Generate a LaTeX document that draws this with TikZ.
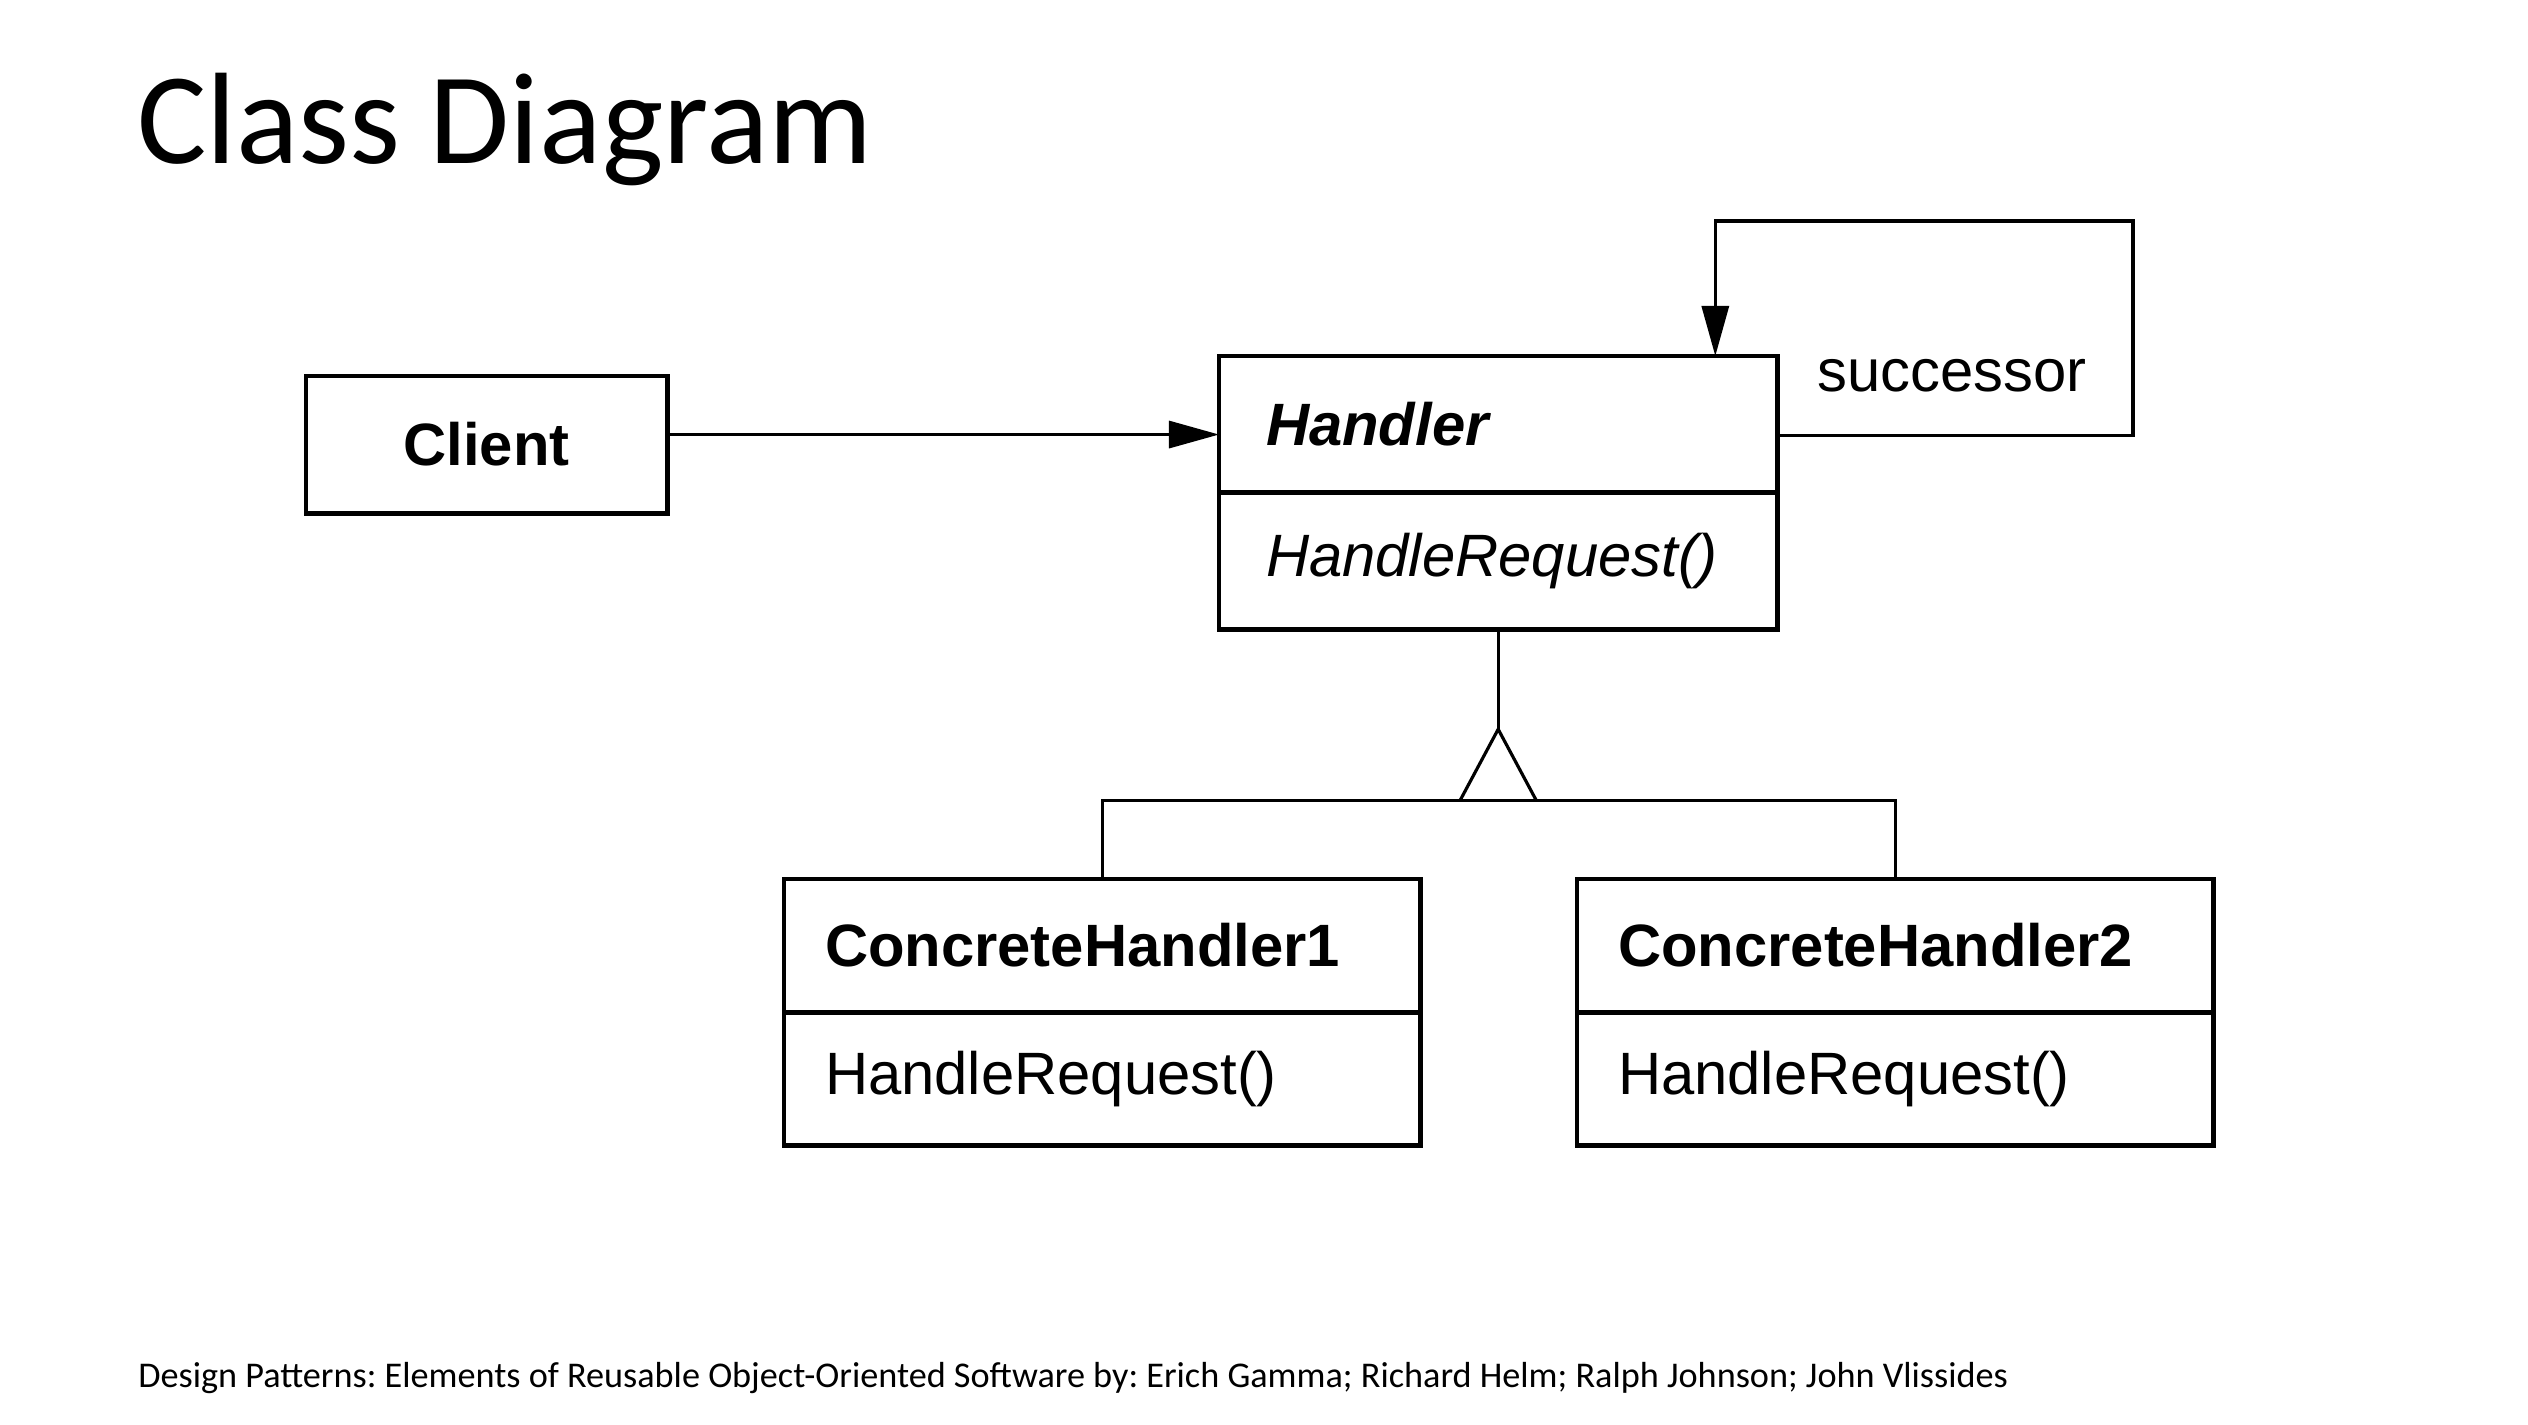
\documentclass[tikz,border=0pt]{standalone}
\usepackage{fontspec}
\setmainfont{Liberation Sans}
\newfontfamily\slidefont{Carlito}
\usetikzlibrary{arrows.meta}
\frenchspacing

\begin{document}
\begin{tikzpicture}[x=0.01cm,y=-0.01cm,line width=0.9pt]
  \tikzstyle{classbox}=[draw,line width=1.4pt,anchor=north west,inner sep=0pt,outer sep=0pt,font=\fontsize{17}{20}\selectfont]
  \tikzstyle{hdpart}=[classbox,text width=4.64cm,inner xsep=0.47cm,align=left,minimum height=1.365cm]
  \tikzstyle{chpart}=[classbox,text width=5.54cm,inner xsep=0.41cm,align=left,minimum height=1.33cm]
  \tikzstyle{assoc}=[-{Triangle[length=0.5cm,width=0.27cm]}]
  \useasboundingbox (0,0) rectangle (2528,1424);

  \node[anchor=base west,font=\slidefont\fontsize{37}{44}\selectfont] (title) at (124,163) {Class Diagram};

  \node[classbox,minimum width=3.61cm,minimum height=1.37cm,font=\fontsize{17}{20}\selectfont\bfseries] (cl) at (306,376) {Client};
  \node[hdpart,font=\fontsize{17}{20}\selectfont\bfseries\itshape] (hd) at (1219,356) {Handler};
  \node[hdpart,font=\fontsize{17}{20}\selectfont\itshape] (hdop) at (hd.south west) {HandleRequest()};

  \node[chpart,font=\fontsize{17}{20}\selectfont\bfseries] (ch1) at (784,879) {ConcreteHandler1};
  \node[chpart] (ch1op) at (ch1.south west) {HandleRequest()};
  \node[chpart,font=\fontsize{17}{20}\selectfont\bfseries] (ch2) at (1577,879) {ConcreteHandler2};
  \node[chpart] (ch2op) at (ch2.south west) {HandleRequest()};

  \draw[assoc] ([yshift=0.1cm]cl.east) -- ([yshift=0.1cm]cl.east -| hd.west);

  \coordinate (loop) at (2133,221);
  \draw[assoc] ([yshift=-0.11cm]hd.east) -| (loop) -| ([xshift=-0.62cm]hd.north east);
  \node[font=\fontsize{17}{20}\selectfont] (succ) at (1952,376) {successor};

  \coordinate (apex) at ([yshift=-1cm]hdop.south);
  \coordinate (bar) at ([yshift=-1.71cm]hdop.south);
  \draw (hdop.south) -- (apex);
  \draw (ch1.north) |- (bar) -| (ch2.north);
  \draw[line join=miter] (bar) ++(-38,0) -- (apex) -- ++(38,71);

  \node[anchor=base west,font=\slidefont\fontsize{10.3}{12}\selectfont] (src) at (125,1387) {Design Patterns: Elements of Reusable Object-Oriented Software by: Erich Gamma; Richard Helm; Ralph Johnson; John Vlissides};
\end{tikzpicture}
\end{document}
